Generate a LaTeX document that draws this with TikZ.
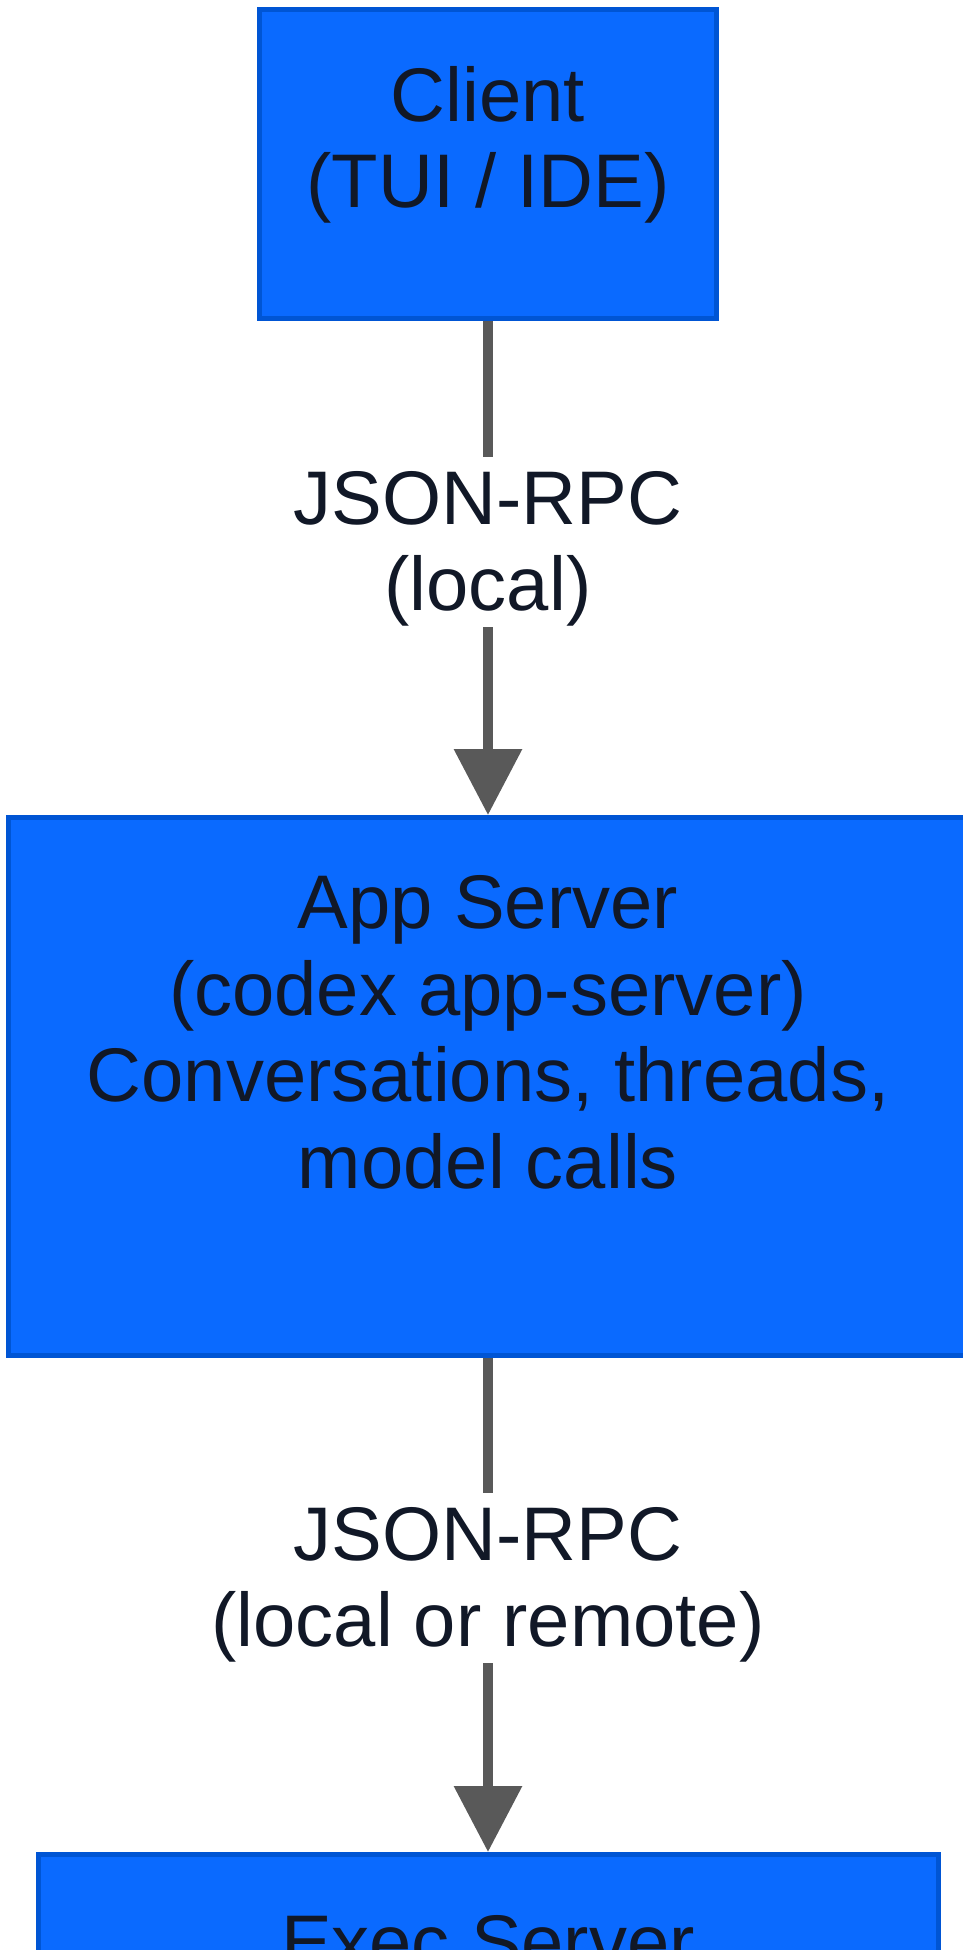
\documentclass[tikz,border=0pt]{standalone}
\usepackage{fontspec}
\setmainfont{Liberation Sans}
\usepackage{xcolor}
\usetikzlibrary{arrows.meta}
\definecolor{boxfill}{HTML}{0A6AFF}
\definecolor{boxline}{HTML}{0055D4}
\definecolor{inkdark}{HTML}{111827}
\definecolor{wiregray}{HTML}{595959}

\begin{document}
\begin{tikzpicture}[x=0.5pt,y=-0.5pt]
    \tikzstyle{srvbox}=[draw=boxline, fill=boxfill, line width=2.5pt, rectangle, inner sep=0pt]
    \tikzstyle{txt}=[text=inkdark, align=center, inner sep=0pt, font=\fontsize{38}{43.25}\selectfont]
    \tikzstyle{wire}=[draw=wiregray, line width=5pt]
    \tikzstyle{arrowed}=[-{Triangle[length=33pt,width=33pt]}]
\useasboundingbox (0,0) rectangle (963,1950);

\node[srvbox, minimum width=228.5pt, minimum height=154.5pt] (client) at (488,164) {};
\node[srvbox, minimum width=479.5pt, minimum height=269pt] (app) at (488,1086.5) {};
\node[srvbox, minimum width=450pt, minimum height=150pt, anchor=north] (exec) at (488,1852) {};

\node[txt] (client-txt) at (488,145) {Client\\(TUI / IDE)};
\node[txt] (app-txt) at (488,1032.5) {App Server\\(codex app-server)\\Conversations, threads,\\model calls};
\node[txt, anchor=base] (exec-txt) at (488,1968) {Exec Server};

\node[txt] (rpc-local) at (488,549) {JSON-RPC\\(local)};
\node[txt] (rpc-remote) at (488,1585) {JSON-RPC\\(local or remote)};

\draw[wire] (client.south) -- ([yshift=7pt]rpc-local.north);
\draw[wire, arrowed] (rpc-local.south) -- (app.north);
\draw[wire] (app.south) -- ([yshift=7pt]rpc-remote.north);
\draw[wire, arrowed] (rpc-remote.south) -- (exec.north);
\end{tikzpicture}
\end{document}
